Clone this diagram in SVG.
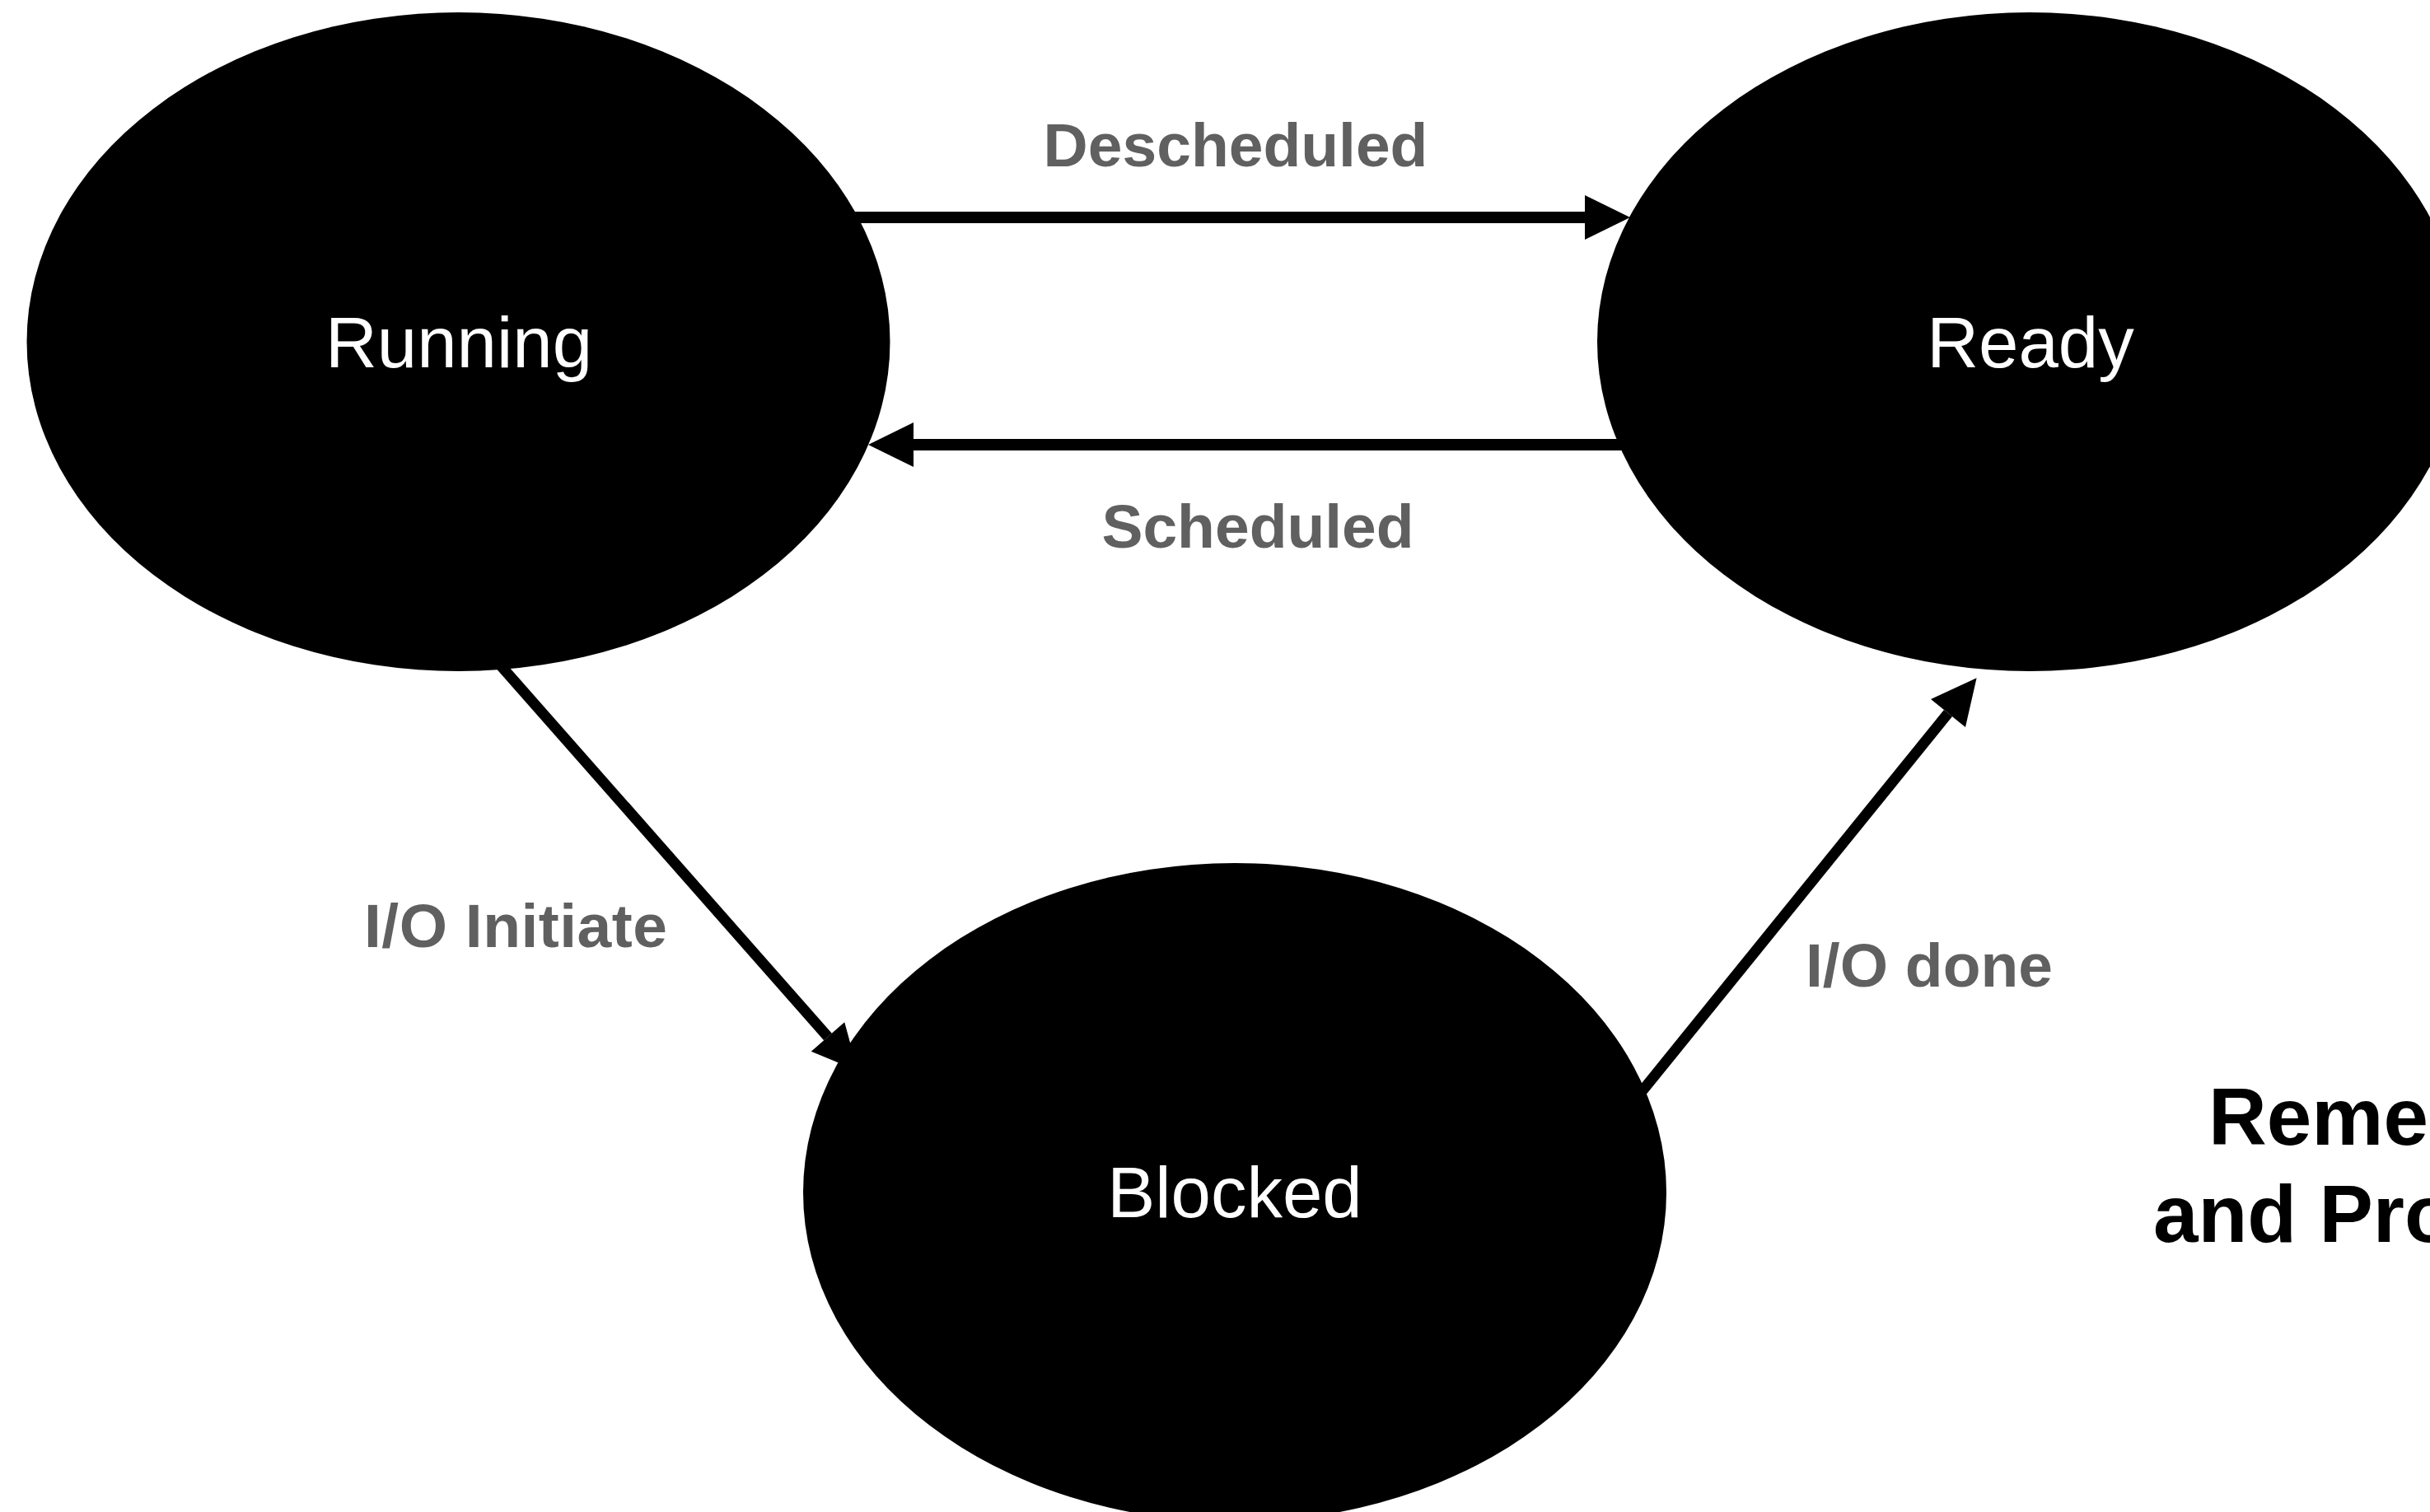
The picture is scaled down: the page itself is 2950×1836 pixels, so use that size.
<svg xmlns="http://www.w3.org/2000/svg" width="2950" height="1836" viewBox="0 0 2950 1836">
  <style>
    .node { fill: #000000; }
    .nlabel { font-family: "Liberation Sans", Arial, sans-serif; font-size: 87px; fill: #ffffff; text-anchor: middle; }
    .edge { stroke: #000000; stroke-width: 14; fill: none; marker-end: url(#arrow); }
    .diag { stroke-width: 13; }
    .elabel { font-family: "Liberation Sans", Arial, sans-serif; font-size: 75px; font-weight: bold; fill: #606060; text-anchor: middle; }
    .note { font-family: "Liberation Sans", Arial, sans-serif; font-size: 98px; font-weight: bold; fill: #000000; }
  </style>
  <defs>
    <marker id="arrow" markerUnits="userSpaceOnUse" markerWidth="60" markerHeight="60" refX="0" refY="27" orient="auto" overflow="visible">
      <path d="M0,0 L55,27 L0,54 z" fill="#000000"/>
    </marker>
  </defs>
  <rect x="0" y="0" width="2950" height="1836" fill="#ffffff"/>

  <g id="connectors">
    <path id="e-descheduled" class="edge" d="M1030,264 L1924,264"/>
    <path id="e-scheduled" class="edge" d="M1975,540 L1109,540"/>
    <path id="e-io-initiate" class="edge diag" d="M605,805 L1005,1259"/>
    <path id="e-io-done" class="edge diag" d="M1991,1328 L2365,866"/>
    <text class="elabel" x="1500" y="202">Descheduled</text>
    <text class="elabel" x="1527" y="665">Scheduled</text>
    <text class="elabel" x="626" y="1150" textLength="368">I/O Initiate</text>
    <text class="elabel" x="2342" y="1198">I/O done</text>
  </g>

  <g id="node-running">
    <ellipse class="node" cx="556.5" cy="415" rx="524" ry="400"/>
    <text class="nlabel" x="557" y="446">Running</text>
  </g>
  <g id="node-ready">
    <ellipse class="node" cx="2464" cy="415" rx="525" ry="400"/>
    <text class="nlabel" x="2465" y="446">Ready</text>
  </g>
  <g id="node-blocked">
    <ellipse class="node" cx="1499" cy="1448" rx="524" ry="400"/>
    <text class="nlabel" x="1499" y="1478">Blocked</text>
  </g>

  <g id="note">
    <text class="note" x="2681" y="1390">Reme</text>
    <text class="note" x="2614" y="1508">and Pro</text>
  </g>
</svg>
